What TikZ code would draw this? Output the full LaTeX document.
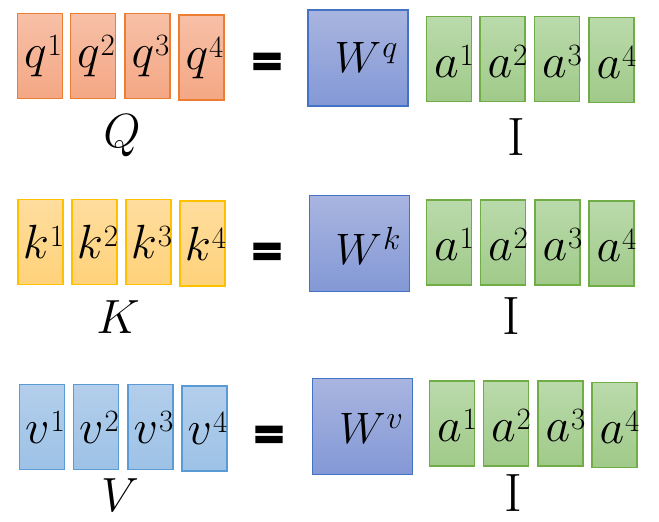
\RequirePackage{fix-cm}
\documentclass[tikz,border=0pt]{standalone}
\usepackage{fontspec}
\newfontfamily\eqfont{Carlito}[BoldFeatures={FakeBold=3}]
% letter, superscript, raise, superscript size
\newcommand\supsym[4]{$#1$\kern1pt\raisebox{#3}{\fontsize{#4}{#4}\selectfont #2}}
\definecolor{qline}{HTML}{ED7D31}
\definecolor{qtop}{HTML}{F7C0A7}
\definecolor{qbot}{HTML}{F4A784}
\definecolor{kline}{HTML}{FFC000}
\definecolor{ktop}{HTML}{FFDD9E}
\definecolor{kbot}{HTML}{FFD27A}
\definecolor{vline}{HTML}{5B9BD5}
\definecolor{vtop}{HTML}{B3CEEB}
\definecolor{vbot}{HTML}{9DC2E6}
\definecolor{wline}{HTML}{4472C4}
\definecolor{wtop}{HTML}{A9B5E0}
\definecolor{wbot}{HTML}{8398D6}
\definecolor{aline}{HTML}{70AD47}
\definecolor{atop}{HTML}{BADAAB}
\definecolor{abot}{HTML}{A0CA89}
\begin{document}
\begin{tikzpicture}[x=1pt,y=-1pt,
  cell/.style={line width=1.8pt, minimum width=45pt, minimum height=85pt, inner sep=0pt},
  qcell/.style={cell, draw=qline, top color=qtop, bottom color=qbot},
  kcell/.style={cell, draw=kline, top color=ktop, bottom color=kbot},
  vcell/.style={cell, draw=vline, top color=vtop, bottom color=vbot},
  acell/.style={cell, draw=aline, top color=atop, bottom color=abot},
  wbox/.style={line width=1.8pt, draw=wline, top color=wtop, bottom color=wbot, minimum width=100pt, minimum height=96pt, inner sep=0pt},
  sym/.style={font=\fontsize{48}{48}\selectfont, inner sep=0pt},
  wsym/.style={font=\fontsize{44}{44}\selectfont, inner sep=0pt},
  eqsign/.style={font=\eqfont\bfseries\fontsize{60}{60}\selectfont, inner sep=0pt},
  ilbl/.style={font=\fontsize{54}{54}\selectfont, inner sep=0pt}]
\useasboundingbox (0,0) rectangle (659,522);

% ---------- Row 1: Q ----------
\foreach \i/\x/\y in {1/40/56, 2/93/56, 3/147.5/56, 4/201.5/57.5}{
  \node[qcell] (q\i) at (\x,\y) {};
  \node[sym] (tq\i) at ([xshift=3pt]q\i.center) {\supsym{q}{\i}{12pt}{31}};
}
\node[sym] (Ql) at (122,136) {$Q$};
\node[eqsign] (e1) at (267,67) {=};
\node[wbox] (wq) at (358,58) {};
\node[wsym] (twq) at (366,57) {\supsym{W}{$q$}{15pt}{32}};
\foreach \i/\x/\y in {1/449/59, 2/502.5/59, 3/557/59, 4/611.5/60}{
  \node[acell] (a1\i) at (\x,\y) {};
  \node[sym] (ta1\i) at ([xshift=5pt,yshift=-2pt]a1\i.center) {\supsym{a}{\i}{12pt}{31}};
}
\node[ilbl] (i1) at (516,137) {I};

% ---------- Row 2: K ----------
\foreach \i/\x/\y in {1/40.5/242, 2/94.5/242, 3/148.5/242, 4/202.5/243.5}{
  \node[kcell] (k\i) at (\x,\y) {};
  \node[sym] (tk\i) at ([xshift=3pt]k\i.center) {\supsym{k}{\i}{12pt}{31}};
}
\node[sym] (Kl) at (118,317) {$K$};
\node[eqsign] (e2) at (267,257) {=};
\node[wbox] (wk) at (359.5,243.5) {};
\node[wsym] (twk) at (368,245.5) {\supsym{W}{$k$}{15pt}{32}};
\foreach \i/\x/\y in {1/449/242.5, 2/503/242.5, 3/557.5/242.5, 4/611.5/243.5}{
  \node[acell] (a2\i) at (\x,\y) {};
  \node[sym] (ta2\i) at ([xshift=5pt,yshift=-2pt]a2\i.center) {\supsym{a}{\i}{12pt}{31}};
}
\node[ilbl] (i2) at (511,316) {I};

% ---------- Row 3: V ----------
\foreach \i/\x/\y in {1/42/427, 2/96/427, 3/150.5/427, 4/204.5/428.5}{
  \node[vcell] (v\i) at (\x,\y) {};
  \node[sym] (tv\i) at ([xshift=3pt]v\i.center) {\supsym{v}{\i}{12pt}{31}};
}
\node[sym] (Vl) at (120,495) {$V$};
\node[eqsign] (e3) at (269,440) {=};
\node[wbox] (wv) at (362.5,426.5) {};
\node[wsym] (twv) at (371,428) {\supsym{W}{$v$}{15pt}{32}};
\foreach \i/\x/\y in {1/452/423.5, 2/506/423.5, 3/560.5/423.5, 4/614.5/425}{
  \node[acell] (a3\i) at (\x,\y) {};
  \node[sym] (ta3\i) at ([xshift=5pt,yshift=-2pt]a3\i.center) {\supsym{a}{\i}{12pt}{31}};
}
\node[ilbl] (i3) at (513,493) {I};
\end{tikzpicture}
\end{document}
